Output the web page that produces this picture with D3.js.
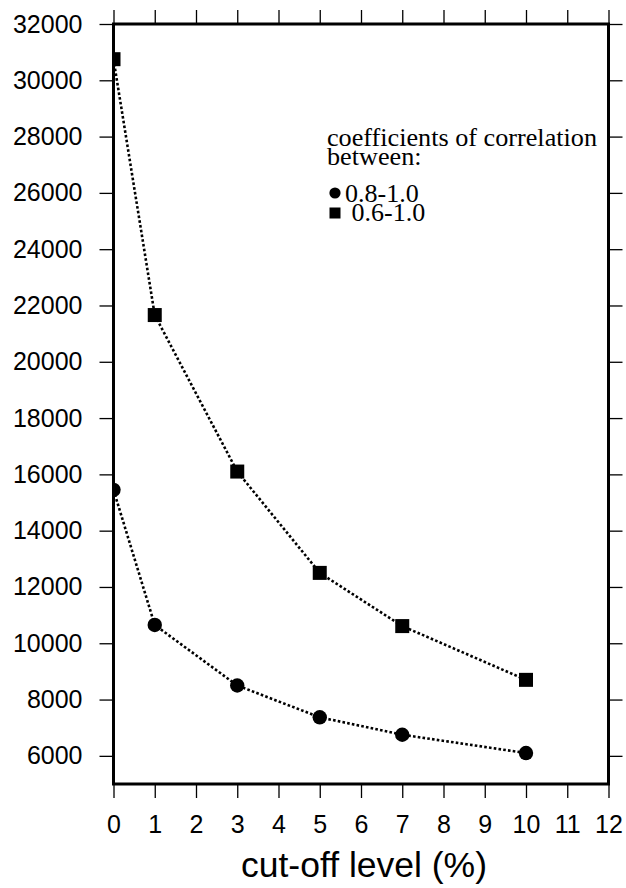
<!DOCTYPE html>
<html>
<head>
<meta charset="utf-8">
<script src="https://cdn.jsdelivr.net/npm/d3@7"></script>
<style>
  html, body { margin: 0; padding: 0; background: #fff; }
  svg { display: block; }
</style>
</head>
<body>
<script>
// Cut-off level (%) on the x axis
const cutoffLevels = [0, 1, 3, 5, 7, 10];
// Number of pairs whose correlation coefficient lies in 0.8-1.0
const seriesHigh = [15450, 10650, 8500, 7370, 6750, 6100];
// Number of pairs whose correlation coefficient lies in 0.6-1.0
const seriesMid = [30750, 21660, 16100, 12500, 10610, 8700];
// Axis ticks
const xTicks = [0, 1, 2, 3, 4, 5, 6, 7, 8, 9, 10, 11, 12];
const yTicks = [6000, 8000, 10000, 12000, 14000, 16000, 18000, 20000, 22000, 24000, 26000, 28000, 30000, 32000];
const legendTitle = ["coefficients of correlation", "between:"];
const legendLabels = ["0.8-1.0", " 0.6-1.0"];

const W = 626, H = 888;
const plotLeft = 113.5, plotRight = 608.5, plotTop = 24, plotBottom = 784;

const svg = d3.select("body").append("svg")
  .attr("width", W).attr("height", H);

const x = d3.scaleLinear().domain([0, 12]).range([plotLeft, plotRight]);
const y = d3.scaleLinear().domain([5000, 32000]).range([plotBottom, plotTop]);

const sans = "'Liberation Sans', Arial, Helvetica, sans-serif";
const serif = "'Liberation Serif', 'Times New Roman', Times, serif";

function styleAxis(g) {
  g.select(".domain").remove();
  g.selectAll(".tick line").attr("stroke", "#000").attr("stroke-width", 1.3);
  g.selectAll(".tick text").attr("fill", "#000")
    .style("font-family", sans).style("font-size", "25px");
}

// Left axis with labels
svg.append("g").attr("transform", `translate(${plotLeft},0)`)
  .call(d3.axisLeft(y).tickValues(yTicks).tickSize(14).tickPadding(17).tickFormat(d3.format("d")))
  .call(styleAxis);

// Right axis, ticks only
svg.append("g").attr("transform", `translate(${plotRight},0)`)
  .call(d3.axisRight(y).tickValues(yTicks).tickSize(14).tickFormat(""))
  .call(styleAxis);

// Bottom axis with labels
svg.append("g").attr("transform", `translate(0,${plotBottom})`)
  .call(d3.axisBottom(x).tickValues(xTicks).tickSize(14).tickPadding(17).tickFormat(d3.format("d")))
  .call(styleAxis);

// Top axis, ticks only
svg.append("g").attr("transform", `translate(0,${plotTop})`)
  .call(d3.axisTop(x).tickValues(xTicks).tickSize(14).tickFormat(""))
  .call(styleAxis);

// Clip marks to the plotting frame
svg.append("clipPath").attr("id", "plot-clip")
  .append("rect")
  .attr("x", plotLeft).attr("y", plotTop)
  .attr("width", plotRight - plotLeft).attr("height", plotBottom - plotTop);

const plot = svg.append("g").attr("clip-path", "url(#plot-clip)");

const line = d3.line()
  .x(d => x(d[0]))
  .y(d => y(d[1]));

const highPts = cutoffLevels.map((c, i) => [c, seriesHigh[i]]);
const midPts = cutoffLevels.map((c, i) => [c, seriesMid[i]]);

[highPts, midPts].forEach(pts => {
  plot.append("path")
    .datum(pts)
    .attr("d", line)
    .attr("fill", "none")
    .attr("stroke", "#000")
    .attr("stroke-width", 2.6)
    .attr("stroke-dasharray", "2.6,2.2");
});

plot.selectAll("circle.high")
  .data(highPts).enter().append("circle")
  .attr("class", "high")
  .attr("cx", d => x(d[0])).attr("cy", d => y(d[1]))
  .attr("r", 7.2).attr("fill", "#000");

const sq = 14;
plot.selectAll("rect.mid")
  .data(midPts).enter().append("rect")
  .attr("class", "mid")
  .attr("x", d => x(d[0]) - sq / 2).attr("y", d => y(d[1]) - sq / 2)
  .attr("width", sq).attr("height", sq).attr("fill", "#000");

// Frame
svg.append("rect")
  .attr("x", plotLeft).attr("y", plotTop)
  .attr("width", plotRight - plotLeft).attr("height", plotBottom - plotTop)
  .attr("fill", "none").attr("stroke", "#000").attr("stroke-width", 3);

// Legend
const legend = svg.append("g");
legend.selectAll("text.title")
  .data(legendTitle).enter().append("text")
  .attr("class", "title")
  .attr("x", 327).attr("y", (d, i) => 146 + i * 18.5)
  .style("font-family", serif).style("font-size", "26.2px")
  .attr("fill", "#000")
  .text(d => d);

legend.append("circle").attr("cx", 335).attr("cy", 193).attr("r", 5.6).attr("fill", "#000");
legend.append("rect").attr("x", 329.5).attr("y", 207.5).attr("width", 11).attr("height", 11).attr("fill", "#000");

legend.selectAll("text.item")
  .data(legendLabels).enter().append("text")
  .attr("class", "item")
  .attr("x", 345).attr("y", (d, i) => 201.5 + i * 19)
  .style("white-space", "pre")
  .style("font-family", serif).style("font-size", "26px")
  .attr("fill", "#000")
  .text(d => d);

// X axis title
svg.append("text")
  .attr("x", (plotLeft + plotRight) / 2 + 3).attr("y", 877)
  .attr("text-anchor", "middle")
  .style("font-family", sans).style("font-size", "35.5px")
  .attr("fill", "#000")
  .text("cut-off level (%)");
</script>
</body>
</html>
